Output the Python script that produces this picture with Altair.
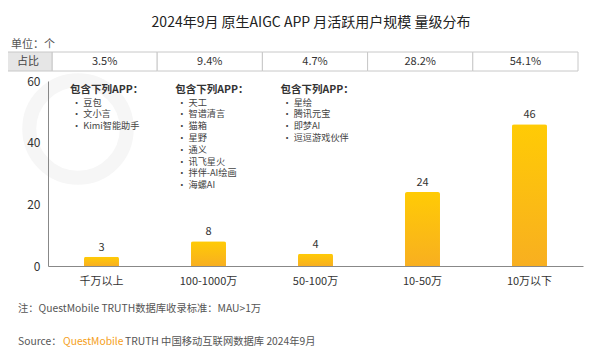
import altair as alt
import pandas as pd

FONT = "Noto Sans CJK SC"

categories = ["千万以上", "100-1000万", "50-100万", "10-50万", "10万以下"]
counts = [3, 8, 4, 24, 46]
shares = ["3.5%", "9.4%", "4.7%", "28.2%", "54.1%"]
group1_apps = ["豆包", "文小言", "Kimi智能助手"]
group2_apps = ["天工", "智谱清言", "猫箱", "星野", "通义", "讯飞星火", "拌伴-AI绘画", "海螺AI"]
group3_apps = ["星绘", "腾讯元宝", "即梦AI", "逗逗游戏伙伴"]

title_text = "2024年9月 原生AIGC APP 月活跃用户规模 量级分布"
unit_text = "单位：个"
row_head = "占比"
group_head = "包含下列APP："
note_text = "注：QuestMobile TRUTH数据库收录标准：MAU>1万"
src_a, src_b, src_c = "Source：", "QuestMobile", "TRUTH 中国移动互联网数据库 2024年9月"

df = pd.DataFrame({"cat": categories, "count": counts, "share": shares})
groups = [group1_apps, group2_apps, group3_apps]

rows = []
for gi, g in enumerate(groups):
    rows.append({"cat": categories[gi], "line": -1, "text": group_head, "kind": "head"})
    for i, a in enumerate(g):
        rows.append({"cat": categories[gi], "line": i, "text": "•  " + a, "kind": "item"})
df_ann = pd.DataFrame(rows)

band_scale = alt.Scale(paddingInner=0.673, paddingOuter=0.3365)


def one(text):
    return alt.Chart(pd.DataFrame({"t": [text]}))


# faint watermark ring
wm_ring = one("o").mark_point(
    shape="circle", filled=False, size=9500, strokeWidth=14, color="#f6f6f6", opacity=1
).encode(x=alt.value(30), y=alt.value(48))

xenc = alt.X(
    "cat:N", sort=categories, scale=band_scale,
    axis=alt.Axis(title=None, labelAngle=0, labelFont=FONT, labelFontSize=11,
                  labelColor="#333", labelPadding=9, domainColor="#888", ticks=False,
                  zindex=1),
)
yenc = alt.Y(
    "count:Q", scale=alt.Scale(domain=[0, 60]),
    axis=alt.Axis(title=None, values=[0, 20, 40, 60], grid=False, ticks=False,
                  domainColor="#888", labelFont=FONT, labelFontSize=12,
                  labelColor="#333", labelPadding=8, zindex=1),
)

bars = alt.Chart(df).mark_bar(
    color=alt.Gradient(
        gradient="linear",
        stops=[alt.GradientStop(color="#FFCB05", offset=0),
               alt.GradientStop(color="#F8AF20", offset=1)],
        x1=0, x2=0, y1=0, y2=1,
    ),
    cornerRadiusTopLeft=2, cornerRadiusTopRight=2,
).encode(x=xenc, y=yenc)

values = alt.Chart(df).mark_text(
    baseline="bottom", dy=-4, font=FONT, fontSize=11, color="#333"
).encode(x=alt.X("cat:N", sort=categories), y="count:Q", text="count:Q")

plot_layer = alt.layer(wm_ring, bars, values)

table_scale = alt.Scale(range=[4, 530], paddingInner=0, paddingOuter=0)
ann_x = alt.X("cat:N", sort=categories, scale=table_scale, axis=None, bandPosition=0)
ann_y = alt.Y("line:Q", scale=alt.Scale(domain=[0, 1], range=[21.5, 33.3]), axis=None)

heads = alt.Chart(df_ann).transform_filter(alt.datum.kind == "head").mark_text(
    align="left", baseline="middle", dx=18, dy=-0.5, font=FONT, fontSize=10.5,
    fontWeight="bold", color="#333"
).encode(x=ann_x, y=ann_y, text="text:N")

items = alt.Chart(df_ann).transform_filter(alt.datum.kind == "item").mark_text(
    align="left", baseline="middle", dx=20, font=FONT, fontSize=9.2, color="#444"
).encode(x=ann_x, y=ann_y, text="text:N")

cells = alt.Chart(df).mark_rect(fill="white", stroke="#c8c8c8", strokeWidth=1).encode(
    x=alt.X("cat:N", sort=categories, scale=table_scale, axis=None),
    y=alt.value(-29), y2=alt.value(-10),
)
cell_text = alt.Chart(df).mark_text(
    baseline="middle", font=FONT, fontSize=11, color="#333"
).encode(
    x=alt.X("cat:N", sort=categories, scale=table_scale, axis=None),
    y=alt.value(-19.5), text="share:N",
)
head_cell = one(row_head).mark_rect(fill="#e6e6e6", stroke="#c8c8c8", strokeWidth=1).encode(
    x=alt.value(-44), x2=alt.value(4), y=alt.value(-29), y2=alt.value(-10)
)
head_text = one(row_head).mark_text(
    baseline="middle", font=FONT, fontSize=11, color="#444"
).encode(x=alt.value(-20), y=alt.value(-19.5), text="t:N")

title = one(title_text).mark_text(
    baseline="middle", font=FONT, fontSize=14, color="#222"
).encode(x=alt.value(263), y=alt.value(-58), text="t:N")
unit = one(unit_text).mark_text(
    align="left", baseline="middle", font=FONT, fontSize=11, color="#555"
).encode(x=alt.value(-37), y=alt.value(-36), text="t:N")
note = one(note_text).mark_text(
    align="left", baseline="middle", font=FONT, fontSize=10.3, color="#555"
).encode(x=alt.value(-30), y=alt.value(228), text="t:N")
s1 = one(src_a).mark_text(
    align="left", baseline="middle", font=FONT, fontSize=10.3, color="#555"
).encode(x=alt.value(-30), y=alt.value(261), text="t:N")
s2 = one(src_b).mark_text(
    align="left", baseline="middle", font=FONT, fontSize=10.3, color="#F5A01A"
).encode(x=alt.value(15), y=alt.value(261), text="t:N")
s3 = one(src_c).mark_text(
    align="left", baseline="middle", font=FONT, fontSize=10.3, color="#555"
).encode(x=alt.value(77), y=alt.value(261), text="t:N")

table_layer = alt.layer(cells, cell_text, head_cell, head_text, title, unit, note, s1, s2, s3,
                        heads, items)

chart = alt.layer(plot_layer, table_layer).resolve_scale(
    x="independent", y="independent"
).properties(
    width=535, height=185,
    autosize=alt.AutoSizeParams(type="none"),
    padding={"left": 40, "top": 73, "right": 9, "bottom": 81},
    background="white",
).configure_view(stroke=None)

chart.save("out.html", embed_options={"renderer": "svg", "actions": False})
